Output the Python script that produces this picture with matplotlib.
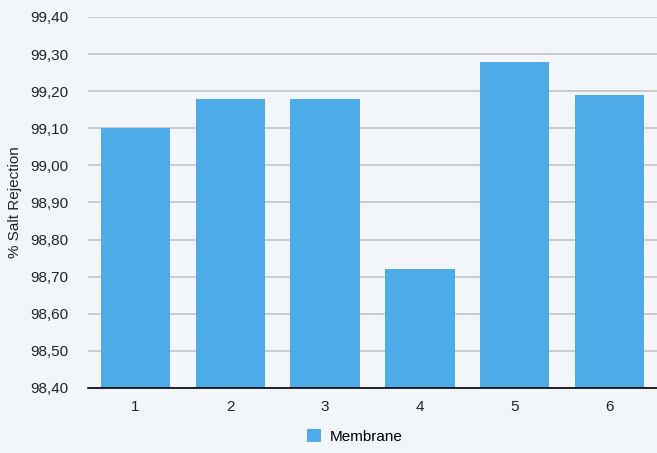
import matplotlib
matplotlib.use("Agg")
import matplotlib.pyplot as plt
from matplotlib.ticker import FuncFormatter, MultipleLocator

plt.rcParams['font.family'] = ['Liberation Sans', 'DejaVu Sans']

categories = ["1", "2", "3", "4", "5", "6"]
rejection = [99.10, 99.18, 99.18, 98.72, 99.28, 99.19]
series_name = "Membrane"

bg = "#f2f6fb"
bar_color = "#4dabe8"

fig = plt.figure(figsize=(6.57, 4.53), dpi=100, facecolor=bg)
ax = fig.add_axes([0.134, 0.1435, 0.866, 0.819], facecolor=bg)

x = range(len(categories))
ax.bar(x, rejection, width=0.73, color=bar_color, label=series_name, zorder=3)

ax.set_xlim(-0.5, len(categories) - 0.5)
ax.set_ylim(98.40, 99.40)
ax.yaxis.set_major_locator(MultipleLocator(0.1))
ax.yaxis.set_major_formatter(FuncFormatter(lambda v, p: f"{v:.2f}".replace(".", ",")))
ax.set_xticks(list(x))
ax.set_xticklabels(categories)

ax.grid(axis="y", color="#c4c4c4", linewidth=1.2, zorder=0)
for s in ["top", "right", "left"]:
    ax.spines[s].set_visible(False)
ax.spines["bottom"].set_color("black")
ax.spines["bottom"].set_linewidth(1.2)
ax.spines["bottom"].set_zorder(4)
ax.tick_params(axis="both", length=0, labelsize=11, colors="#222222", pad=9)
ax.tick_params(axis="y", pad=14)

ax.set_ylabel("% Salt Rejection", fontsize=11, color="#222222", labelpad=6)

fig.legend(loc="lower center", bbox_to_anchor=(0.54, -0.01), frameon=False,
           fontsize=11, handlelength=0.9, handleheight=0.9, handletextpad=0.6)

fig.savefig("out.png", dpi=100, facecolor=bg)
